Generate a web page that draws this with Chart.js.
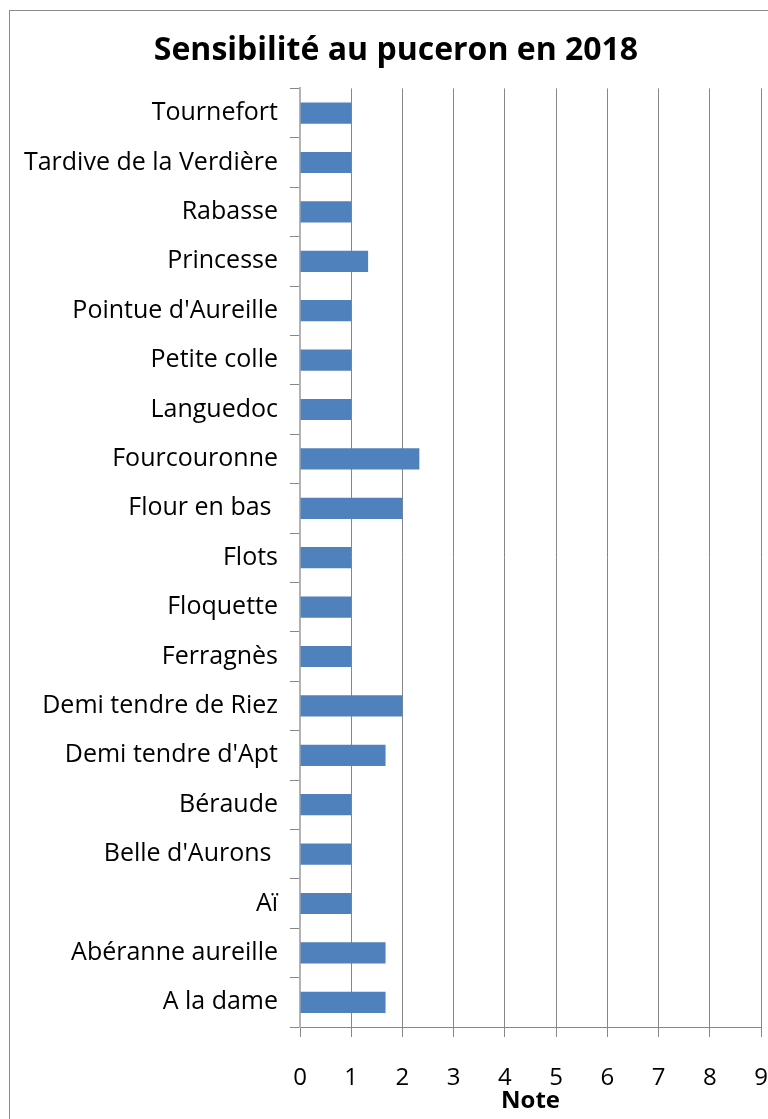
<!DOCTYPE html>
<html>
<head>
<meta charset="utf-8">
<script src="https://cdn.jsdelivr.net/npm/chart.js@4.4.1/dist/chart.umd.min.js"></script>
<style>
  html, body { margin: 0; padding: 0; background: #fff; overflow: hidden; }
  #wrap { width: 768px; height: 1119px; }
</style>
</head>
<body>
<div id="wrap"><canvas id="chart" width="768" height="1119"></canvas></div>
<script>
const varieties = ["Tournefort", "Tardive de la Verdière", "Rabasse", "Princesse", "Pointue d'Aureille",
    "Petite colle", "Languedoc", "Fourcouronne", "Flour en bas ", "Flots", "Floquette", "Ferragnès",
    "Demi tendre de Riez", "Demi tendre d'Apt", "Béraude", "Belle d'Aurons ", "Aï", "Abéranne aureille", "A la dame"];
const notes = [1, 1, 1, 1.33, 1, 1, 1, 2.33, 2, 1, 1, 1, 2, 1.67, 1, 1, 1, 1.67, 1.67];
const noteTicks = [0, 1, 2, 3, 4, 5, 6, 7, 8, 9];

const fontFamily = "'Open Sans', 'DejaVu Sans', sans-serif";

// cadre gris autour du graphique
const frame = {
    id: "frame",
    beforeDraw(chart) {
        const ctx = chart.ctx;
        ctx.save();
        ctx.fillStyle = "#fff";
        ctx.fillRect(0, 0, chart.width, chart.height);
        ctx.strokeStyle = "#8c8c8c";
        ctx.lineWidth = 1;
        ctx.strokeRect(9.5, 10.5, 900, 1300);
        ctx.restore();
    }
};

const ctx = document.getElementById("chart").getContext("2d");
new Chart(ctx, {
    type: "bar",
    data: {
        labels: varieties,
        datasets: [{
            label: "Note",
            data: notes,
            backgroundColor: "#4f81bd",
            borderWidth: 0,
            barPercentage: 0.43,
            categoryPercentage: 1
        }]
    },
    options: {
        indexAxis: "y",
        responsive: false,
        animation: false,
        layout: { padding: { top: 14, right: 0, bottom: 3, left: 24 } },
        plugins: {
            legend: { display: false },
            tooltip: { enabled: false },
            title: {
                display: true,
                text: "Sensibilité au puceron en 2018",
                color: "#000",
                font: { family: fontFamily, size: 32, weight: "bold" },
                padding: { top: 18, bottom: 18 }
            }
        },
        scales: {
            x: {
                min: 0,
                max: 9,
                afterBuildTicks: (scale) => { scale.ticks = noteTicks.map(v => ({ value: v })); },
                afterFit: (scale) => {
                    scale.paddingRight = 7;
                    scale.paddingLeft = 0;
                    scale.height = 89;
                },
                grid: { color: "#878787", lineWidth: 1, drawTicks: true, tickLength: 10, tickColor: "#878787" },
                border: { color: "#878787", width: 1 },
                ticks: { color: "#000", padding: 27, font: { family: fontFamily, size: 24 } },
                title: {
                    display: true,
                    text: "Note",
                    color: "#000",
                    padding: { top: 0, bottom: 0 },
                    font: { family: fontFamily, size: 24, weight: "bold" }
                }
            },
            y: {
                afterFit: (scale) => { scale.width = 276; },
                grid: { drawOnChartArea: false, drawTicks: true, tickLength: 10, color: "#878787", offset: true },
                border: { color: "#b3b3b3", width: 2 },
                ticks: { color: "#000", padding: 12, font: { family: fontFamily, size: 25 } }
            }
        }
    },
    plugins: [frame]
});
</script>
</body>
</html>
